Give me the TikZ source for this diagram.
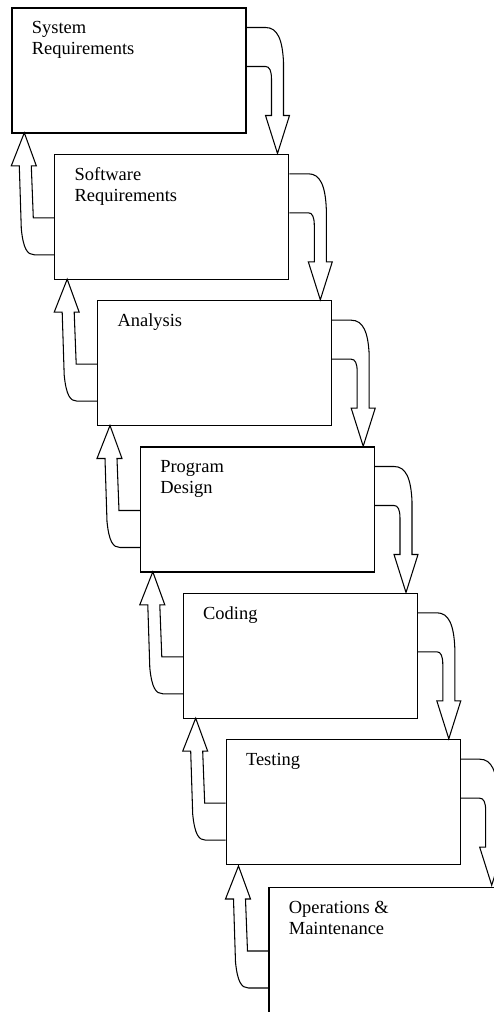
\documentclass[tikz,border=0pt]{standalone}
\usepackage{fontspec}
\setmainfont{Liberation Serif}
\tikzstyle{stage}=[draw, line width=0.6pt, minimum width=4.68cm, minimum height=2.5cm, inner sep=0pt]
\tikzstyle{stagename}=[anchor=north west, align=left, inner sep=0pt, font=\fontsize{10.5}{12}\selectfont]
\tikzstyle{bentarrow}=[line width=0.6pt, line join=miter]

\begin{document}
\begin{tikzpicture}[x=0.02cm, y=-0.02cm]
        \useasboundingbox (0,0) rectangle (494,1012);
        \clip (0,0) rectangle (494,1012);
        % the stages, each one a step right and down
        \node[stage] (sysreq) at (129,70.5) {};
        \node[stage] (swreq) at (171.8,216.8) {};
        \node[stage] (analysis) at (214.7,363.2) {};
        \node[stage] (design) at (257.5,509.5) {};
        \node[stage] (coding) at (300.3,655.8) {};
        \node[stage] (testing) at (343.2,802.2) {};
        \node[stage] (opsmaint) at (386,950) {};

        % stage names
        \node[stagename] (sysreqname) at ([shift={(20,13.5)}]sysreq.north west) {System\\Requirements};
        \node[stagename] (swreqname) at ([shift={(20,13.5)}]swreq.north west) {Software\\Requirements};
        \node[stagename] (analysisname) at ([shift={(20,13.5)}]analysis.north west) {Analysis};
        \node[stagename] (designname) at ([shift={(20,13.5)}]design.north west) {Program\\Design};
        \node[stagename] (codingname) at ([shift={(20,13.5)}]coding.north west) {Coding};
        \node[stagename] (testingname) at ([shift={(20,13.5)}]testing.north west) {Testing};
        \node[stagename] (opsmaintname) at ([shift={(20,13.5)}]opsmaint.north west) {Operations \&\\Maintenance};

        % going down: right side of a stage to the top of the next
        \foreach \a in {sysreq,swreq,analysis,design,coding,testing}{
            \begin{scope}[shift={(\a.north east)}]
                \draw[bentarrow] (0,20) -- (19,20) .. controls (31,20) and (36,32) .. (37,55) -- (37,108)
                    -- (43,108) -- (31,146) -- (19,108) -- (25,108) -- (25,72)
                    .. controls (25,63) and (23,59) .. (19,59) -- (0,59);
            \end{scope}
        }

        % going back: left side of a stage to the bottom of the one before
        \foreach \b in {swreq,analysis,design,coding,testing,opsmaint}{
            \begin{scope}[shift={(\b.north west)}]
                \draw[bentarrow] (0,64) -- (-21,64) -- (-23,12) -- (-18,12) -- (-30,-21) -- (-43,12)
                    -- (-35,12) -- (-33,75) .. controls (-31,95) and (-27,101) .. (-20,101) -- (0,101);
            \end{scope}
        }
    \end{tikzpicture}
\end{document}
